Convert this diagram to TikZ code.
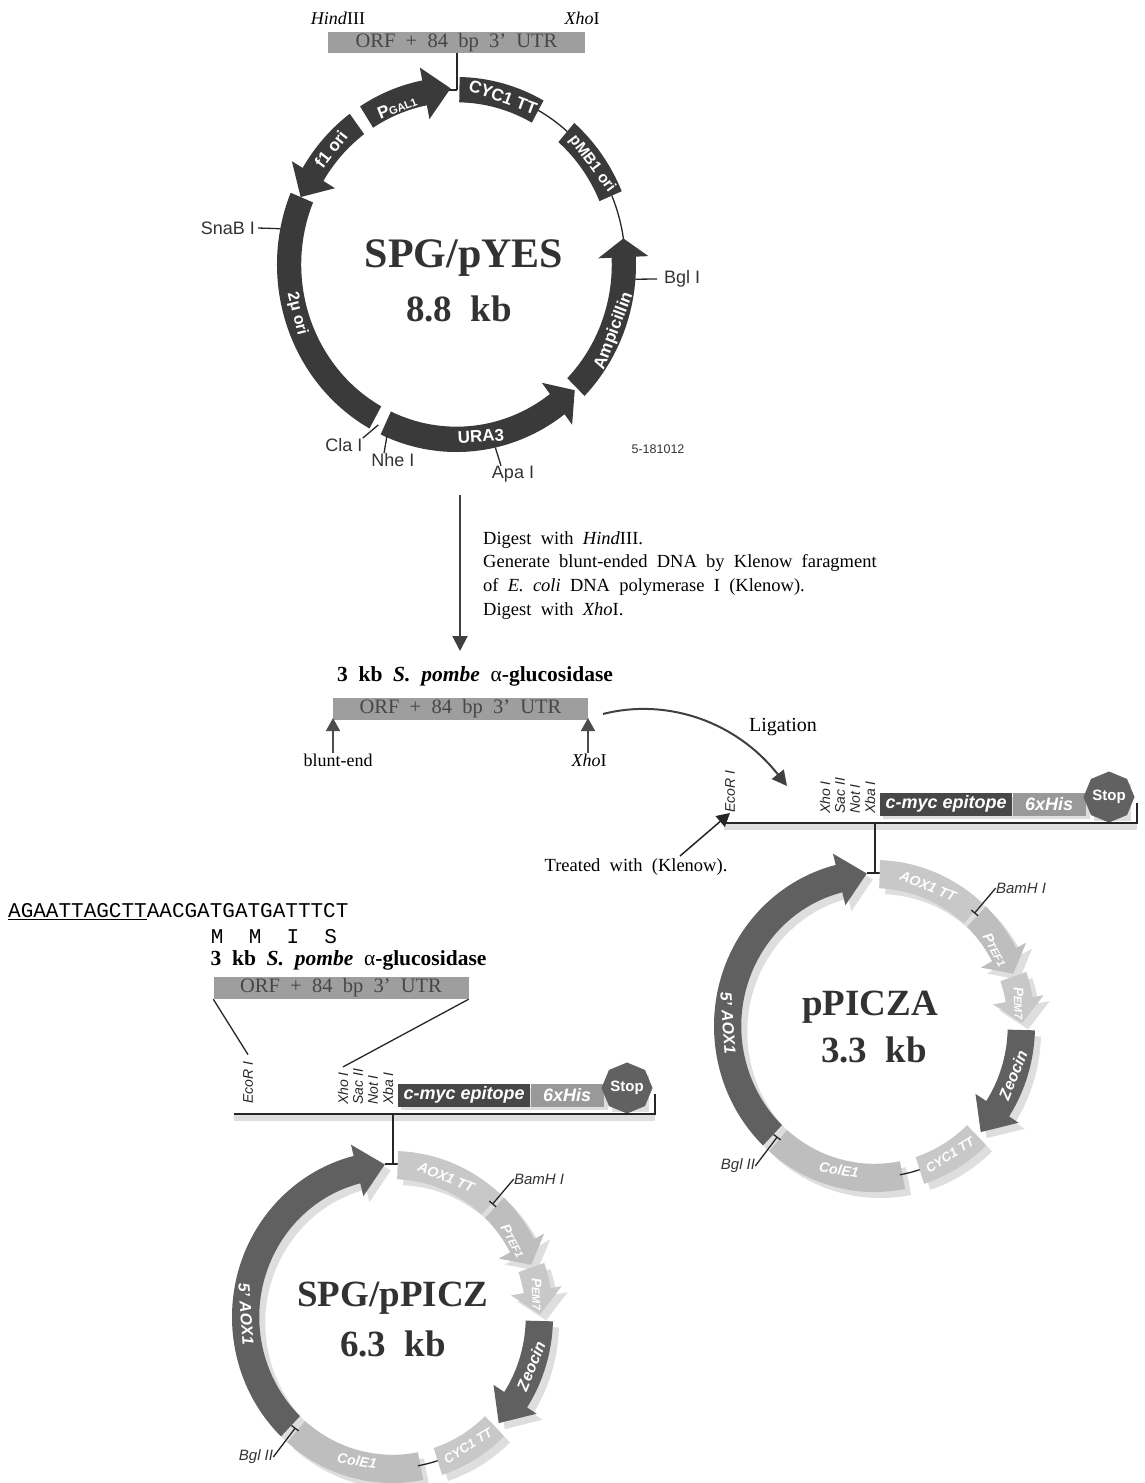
\documentclass[tikz,border=0pt]{standalone}
\usepackage{fontspec}
\setmainfont{Liberation Serif}[WordSpace=2]
\setsansfont{Liberation Sans}
\setmonofont{Liberation Mono}
\usetikzlibrary{shapes.geometric, arrows.meta, positioning}
\definecolor{banddark}{RGB}{58,58,58}
\definecolor{bandmid}{RGB}{96,96,96}
\definecolor{bandlight}{RGB}{190,190,190}
\definecolor{bandpale}{RGB}{200,200,200}
\definecolor{barfill}{RGB}{158,158,158}
\definecolor{bartext}{RGB}{70,70,70}
\definecolor{titledark}{RGB}{50,50,50}
\definecolor{shadegray}{RGB}{222,222,222}
\newcommand{\fsz}[1]{\fontsize{#1}{#1}\selectfont}
% band piece of a ring: start, end, style
\newcommand{\bandarc}[3]{%
  \fill[#3] (#1:100pt) arc[start angle=#1,end angle=#2,radius=100pt]
    -- (#2:\rin) arc[start angle=#2,end angle=#1,radius=\rin] -- cycle;}
% arrow piece of a ring: start, head base, tip, style
\newcommand{\bandarrow}[4]{%
  \fill[#4] (#1:100pt) arc[start angle=#1,end angle=#2,radius=100pt]
    -- (#2:107pt) -- (#3:\tipr) -- (#2:\hdin) -- (#2:\rin)
    arc[start angle=#2,end angle=#1,radius=\rin] -- cycle;}
% pieces of the pPICZ ring: dark, light, pale
\newcommand{\piczpieces}[3]{%
  \begin{scope}[shift={(874.5,1026)}, xscale=1.605, yscale=1.66]
    \def\rin{83pt}\def\hdin{75pt}\def\tipr{92pt}
    \bandarrow{226}{104}{93}{#1}
    \bandarc{88}{48}{#3}
    \bandarrow{46}{28}{20}{#2}
    \bandarrow{19}{10}{1}{#3}
    \bandarrow{-1.5}{-33}{-44}{#1}
    \bandarc{-46}{-72}{#3}
    \bandarc{-79}{-131}{#2}
  \end{scope}}
\tikzset{
  orfbar/.style={rectangle, fill=barfill, text=bartext, minimum width=255pt,
    minimum height=22pt, inner sep=0pt, font=\fsz{20.5}},
  sitelbl/.style={inner sep=0pt, font=\sffamily\fsz{18}, text=black!80},
  seriflbl/.style={inner sep=0pt, font=\fsz{18}},
  bandlbl/.style={inner sep=0pt, text=white, font=\sffamily\bfseries\fsz{17}},
  palelbl/.style={inner sep=0pt, text=white, font=\sffamily\itshape\bfseries\fsz{14}},
  piczlbl/.style={inner sep=0pt, font=\sffamily\itshape\fsz{15}, text=black!80},
  mcslbl/.style={inner sep=0pt, rotate=90, anchor=west, font=\sffamily\itshape\fsz{14}, text=black!85},
  titlelbl/.style={inner sep=0pt, text=titledark, font=\bfseries\fsz{37}},
  featbox/.style={rectangle, inner sep=0pt, minimum height=23pt, text=white,
    font=\sffamily\bfseries\itshape\fsz{18}},
  thinline/.style={line width=1.3pt, draw=black!85},
  leader/.style={thinline, -{Bar[width=9pt,line width=1.3pt]}},
  backbone/.style={line width=2.2pt, draw=black!85},
  shadeline/.style={line width=6pt, draw=shadegray},
  arr/.style={-{Triangle[length=15pt,width=15pt]}, line width=2pt, draw=black!75},
  smallarr/.style={-{Triangle[length=13pt,width=14pt]}, line width=1.5pt, draw=black!70}
}
% pPICZ map, shifted by #1,#2, node names prefixed by #3, backbone from x=#4
\newcommand{\piczmap}[4]{%
  \begin{scope}[shift={(#1,#2)}, name prefix=#3-]
    \coordinate (bbleft) at (#4,823);
    \coordinate (bbright) at (1137,823);
    \coordinate (bbend) at (1137,803);
    \coordinate (bbsite) at (875,823);
    \coordinate (ringsite) at (875,873);
    \coordinate (ringleft) at (867,873);
    \coordinate (ringright) at (885,873);
    \draw[shadeline] ([yshift=-4pt]bbleft) -- ([yshift=-4pt]bbright);
    \fill[shadegray] (883,797) rectangle (1090,819);
    \fill[shadegray] (1094,784) rectangle (1131,821);
    \node[featbox, fill=black!72, minimum width=132pt, anchor=west] (myc) at (880,804) {c-myc epitope};
    \node[featbox, fill=black!40, minimum width=73pt, right=0pt of myc] (his) {6xHis};
    \node[regular polygon, regular polygon sides=8, shape border rotate=22.5, minimum size=43pt,
      inner sep=0pt, fill=black!62, text=white, font=\sffamily\bfseries\fsz{15}] (stop) at (1109,797) {Stop};
    \node[mcslbl] (ecor) at (730,813) {EcoR I};
    \node[mcslbl] (xho) at (825,814) {Xho I};
    \node[mcslbl] (sac) at (840,814) {Sac II};
    \node[mcslbl] (not) at (855,814) {Not I};
    \node[mcslbl] (xba) at (870,814) {Xba I};
    \draw[backbone] (bbleft) -- (bbright) -- (bbend);
    \draw[thinline] (bbsite) -- (ringsite);
    \draw[thinline] (ringleft) -- (ringright);
    \begin{scope}[shift={(6,6)}]
      \piczpieces{shadegray}{shadegray}{shadegray}
    \end{scope}
    \piczpieces{bandmid}{bandlight}{bandpale}
    \begin{scope}[shift={(874.5,1026)}, xscale=1.605, yscale=1.66]
      \draw[thinline] (-72:91pt) arc[start angle=-72,end angle=-80,radius=91pt];
      \coordinate (bamring) at (47.5:92pt);
      \coordinate (bglring) at (227.8:90pt);
    \end{scope}
    \node[palelbl, rotate=-22] (aoxtt) at (928,886) {AOX1 TT};
    \node[palelbl, rotate=-62] (ptef) at (995,950) {P\fsz{11}TEF1};
    \node[palelbl, rotate=-88] (pem) at (1019,1003) {P\fsz{11}EM7};
    \node[bandlbl, font=\sffamily\itshape\bfseries\fsz{16}, rotate=68] (zeo) at (1013,1075) {Zeocin};
    \node[palelbl, font=\sffamily\itshape\bfseries\fsz{13}, rotate=32] (cyc) at (950,1155) {CYC1 TT};
    \node[palelbl, rotate=-9] (cole) at (839,1170) {ColE1};
    \node[bandlbl, font=\sffamily\itshape\bfseries\fsz{16}, rotate=-86] (aox) at (728,1023) {5' AOX1};
    \node[piczlbl] (bam) at (1021,888) {BamH I};
    \node[piczlbl] (bgl) at (738,1166) {Bgl II};
    \draw[leader] (bam.west) -- (bamring);
    \draw[leader] (bgl.east) -- (bglring);
  \end{scope}}

\begin{document}
\begin{tikzpicture}[x=1pt, y=-1pt]
  \useasboundingbox (0,0) rectangle (1144,1483);

  % top plasmid
  \node[seriflbl] (hindA) at (338,18) {\textit{Hind}III};
  \node[seriflbl] (xhoA) at (582,18) {\textit{Xho}I};
  \node[orfbar, minimum width=257pt, minimum height=21pt] (orfA) at (456.5,42.5) {ORF + 84 bp 3' UTR};
  \coordinate (yessite) at (457,90);
  \coordinate (yesleft) at (449,90);
  \draw[thinline] (orfA.south -| yessite) -- (yessite);
  \draw[thinline] (yesleft) -- (yessite);
  \begin{scope}[shift={(456.5,264.5)}, xscale=1.795, yscale=1.875]
    \def\rin{86.5pt}\def\hdin{79pt}\def\tipr{94pt}
    \draw[thinline] (61:94pt) arc[start angle=61,end angle=49,radius=94pt];
    \draw[thinline] (23:94pt) arc[start angle=23,end angle=8,radius=94pt];
    \bandarc{89}{61}{banddark}
    \bandarc{49}{23}{banddark}
    \bandarrow{-44.5}{2.4}{8.5}{banddark}
    \bandarrow{-115}{-53}{-45.5}{banddark}
    \bandarc{157.5}{241}{banddark}
    \bandarrow{126.5}{149}{157.5}{banddark}
    \bandarrow{122.5}{101}{92}{banddark}
    \coordinate (snabring) at (169:100pt);
    \coordinate (bglring) at (-4.5:100pt);
    \coordinate (claring) at (243:96pt);
    \coordinate (nhering) at (247:99pt);
    \coordinate (aparing) at (-77.5:100pt);
  \end{scope}
  \node[bandlbl, rotate=52] (fori) at (331,149) {f1 ori};
  \node[bandlbl, rotate=22] (pgal) at (397,107) {P\fsz{11}GAL1};
  \node[bandlbl, rotate=-20] (cycA) at (503,97) {CYC1 TT};
  \node[bandlbl, font=\sffamily\bfseries\fsz{15.5}, rotate=-53] (pmb) at (592,164) {pMB1 ori};
  \node[bandlbl, rotate=69] (amp) at (614,331) {Ampicillin};
  \node[bandlbl, rotate=3] (ura) at (481,436) {URA3};
  \node[bandlbl, font=\sffamily\bfseries\fsz{16}, rotate=-76] (twomu) at (297,314) {2μ ori};
  \node[sitelbl, anchor=east] (snab) at (255,228) {SnaB I};
  \node[sitelbl, anchor=west] (bglA) at (664,279) {Bgl I};
  \node[sitelbl] (cla) at (344,445) {Cla I};
  \node[sitelbl] (nhe) at (393,460) {Nhe I};
  \node[sitelbl] (apa) at (513,474) {Apa I};
  \node[sitelbl, font=\sffamily\fsz{12.5}] (plasid) at (658,449) {5-181012};
  \draw[thinline] ([xshift=3pt]snab.east) -- (snabring);
  \draw[thinline] ([xshift=-7pt]bglA.west) -- (bglring);
  \draw[thinline] (cla.north east) -- (claring);
  \draw[thinline] ([xshift=-9pt]nhe.north) -- (nhering);
  \draw[thinline] ([xshift=-12pt]apa.north) -- (aparing);
  \node[titlelbl, font=\bfseries\fsz{42}] (yesname) at (464,258) {SPG/pYES};
  \node[titlelbl] (yessize) at (459,309) {8.8 kb};

  % digest step
  \coordinate (digtop) at (460,495);
  \coordinate (digend) at (460,651);
  \draw[arr] (digtop) -- (digend);
  \node[inner sep=0pt, anchor=north west, align=left, font=\fontsize{18.5}{23.7}\selectfont] (digest) at (483,531)
    {Digest with \textit{Hind}III.\\
     Generate blunt-ended DNA by Klenow faragment\\
     of \textit{E. coli} DNA polymerase I (Klenow).\\
     Digest with \textit{Xho}I.};

  % insert
  \node[inner sep=0pt, font=\bfseries\fsz{21.5}] (glcA) at (475,676) {3 kb \textit{S. pombe} \textnormal{α}-glucosidase};
  \node[orfbar] (orfB) at (460.5,708.5) {ORF + 84 bp 3' UTR};
  \node[seriflbl] (blunt) at (338,760) {blunt-end};
  \node[seriflbl] (xhoB) at (589,760) {\textit{Xho}I};
  \coordinate (blunttip) at (333,718);
  \coordinate (xhotip) at (588,718);
  \draw[smallarr] (blunt.north -| blunttip) -- (blunttip);
  \draw[smallarr] (xhoB.north -| xhotip) -- (xhotip);
  \node[seriflbl, font=\fsz{20}] (lig) at (783,727) {Ligation};
  \coordinate (ligstart) at (603,714);
  \coordinate (ligend) at (787,786);
  \draw[arr] (ligstart) .. controls (665,698) and (735,720) .. (ligend);

  % vector, then product
  \piczmap{0}{0}{vec}{724}
  \node[titlelbl] (piczname) at (870,1007) {pPICZA};
  \node[titlelbl] (piczsize) at (874,1050) {3.3 kb};
  \node[seriflbl, font=\fsz{18.5}] (klen) at (636,867) {Treated with (Klenow).};
  \coordinate (klenstart) at (680,856);
  \draw[smallarr, draw=black!85] (klenstart) -- (vec-ecor.west);

  \node[inner sep=0pt, anchor=west, font=\ttfamily\fsz{21}] (seq) at (8,912)
    {\underline{AGAATTAGCTT}AACGATGATGATTTCT};
  \node[inner sep=0pt, font=\ttfamily\fsz{21}] (aa) at (274,937) {M~~M~~I~~S};
  \node[inner sep=0pt, font=\bfseries\fsz{21.5}] (glcB) at (348.5,960) {3 kb \textit{S. pombe} \textnormal{α}-glucosidase};
  \node[orfbar] (orfC) at (341,988) {ORF + 84 bp 3' UTR};
  \piczmap{-482}{291}{prod}{716}
  \draw[thinline] (orfC.south west) -- ([yshift=7pt]prod-ecor.east);
  \draw[thinline] (orfC.south east) -- ([yshift=5pt]prod-xho.east);
  \node[titlelbl] (prodname) at (393,1298) {SPG/pPICZ};
  \node[titlelbl] (prodsize) at (393,1344) {6.3 kb};
\end{tikzpicture}
\end{document}
